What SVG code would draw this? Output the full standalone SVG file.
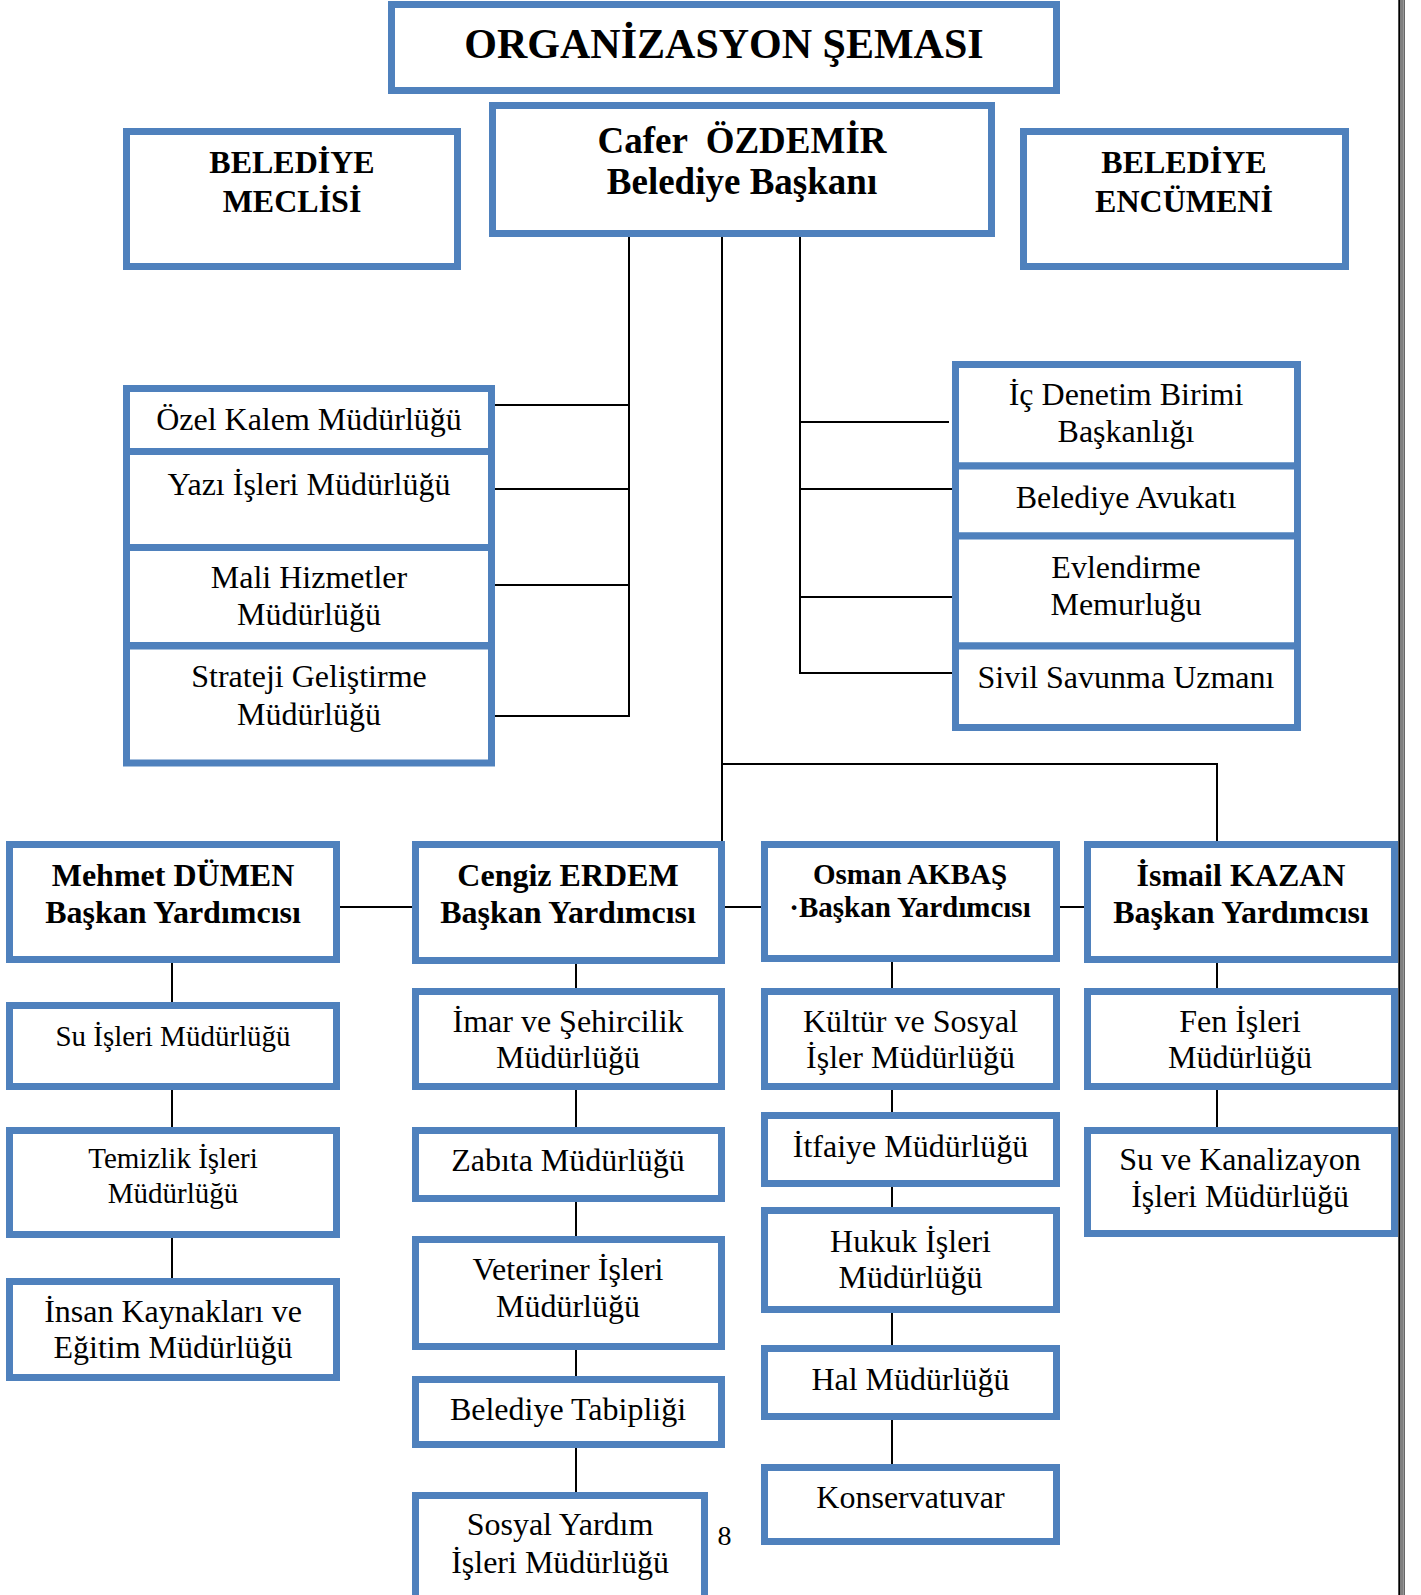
<svg xmlns="http://www.w3.org/2000/svg" width="1421" height="1595" viewBox="0 0 1421 1595">
<style>
.box{fill:#ffffff;stroke:#4F81BD;stroke-width:7}
.t{font-family:"Liberation Serif","Times New Roman",serif;fill:#000;text-anchor:middle}
.b{font-weight:bold}
.s32{font-size:32px}
.s29{font-size:29px}
.conn line{stroke:#000;stroke-width:2}
.border line{stroke:#000}
</style>
<rect x="0" y="0" width="1421" height="1595" fill="#ffffff"/>
<g class="border">
<line x1="1399.4" y1="0" x2="1399.4" y2="1595" stroke-width="2.2"/>
<line x1="1402" y1="0" x2="1402" y2="1595" stroke-width="1"/>
<line x1="1404.1" y1="0" x2="1404.1" y2="1595" stroke-width="1"/>
</g>
<g class="conn">
<line x1="629" y1="233" x2="629" y2="717"/>
<line x1="722" y1="233" x2="722" y2="845"/>
<line x1="800" y1="233" x2="800" y2="674"/>
<line x1="493" y1="405" x2="629" y2="405"/>
<line x1="493" y1="489" x2="629" y2="489"/>
<line x1="493" y1="585" x2="629" y2="585"/>
<line x1="493" y1="716" x2="630" y2="716"/>
<line x1="799" y1="422" x2="949" y2="422"/>
<line x1="799" y1="489" x2="953" y2="489"/>
<line x1="799" y1="597" x2="953" y2="597"/>
<line x1="799" y1="673" x2="953" y2="673"/>
<line x1="721" y1="764" x2="1218" y2="764"/>
<line x1="1217" y1="763" x2="1217" y2="844"/>
<line x1="340" y1="907" x2="412" y2="907"/>
<line x1="725" y1="907" x2="761" y2="907"/>
<line x1="1060" y1="907" x2="1084" y2="907"/>
<line x1="172" y1="962" x2="172" y2="1003"/>
<line x1="172" y1="1089" x2="172" y2="1128"/>
<line x1="172" y1="1237" x2="172" y2="1279"/>
<line x1="576" y1="963" x2="576" y2="989"/>
<line x1="576" y1="1089" x2="576" y2="1128"/>
<line x1="576" y1="1201" x2="576" y2="1237"/>
<line x1="576" y1="1349" x2="576" y2="1377"/>
<line x1="576" y1="1447" x2="576" y2="1493"/>
<line x1="892" y1="961" x2="892" y2="989"/>
<line x1="892" y1="1089" x2="892" y2="1113"/>
<line x1="892" y1="1186" x2="892" y2="1208"/>
<line x1="892" y1="1312" x2="892" y2="1346"/>
<line x1="892" y1="1419" x2="892" y2="1465"/>
<line x1="1217" y1="962" x2="1217" y2="989"/>
<line x1="1217" y1="1089" x2="1217" y2="1128"/>
</g>
<g id="title">
<rect class="box" x="391.5" y="4.5" width="665" height="86"/>
<text class="t b" x="724" y="58" font-size="42">ORGANİZASYON ŞEMASI</text>
</g>
<g id="baskan">
<rect class="box" x="492.5" y="105.5" width="499" height="128"/>
<text class="t b" x="742" y="153" font-size="37" xml:space="preserve">Cafer  ÖZDEMİR</text>
<text class="t b" x="742" y="194" font-size="37">Belediye Başkanı</text>
</g>
<g id="meclis">
<rect class="box" x="126.5" y="131.5" width="331" height="135"/>
<text class="t b s32" x="292" y="173">BELEDİYE</text>
<text class="t b s32" x="292" y="212">MECLİSİ</text>
</g>
<g id="encumen">
<rect class="box" x="1023.5" y="131.5" width="322" height="135"/>
<text class="t b s32" x="1184" y="173">BELEDİYE</text>
<text class="t b s32" x="1184" y="212">ENCÜMENİ</text>
</g>
<g id="ozel-kalem">
<rect class="box" x="126.5" y="388.5" width="365" height="63"/>
<text class="t s32" x="309" y="430">Özel Kalem Müdürlüğü</text>
</g>
<g id="yazi-isleri">
<rect class="box" x="126.5" y="451.5" width="365" height="96"/>
<text class="t s32" x="309" y="495">Yazı İşleri Müdürlüğü</text>
</g>
<g id="mali-hizmetler">
<rect class="box" x="126.5" y="547.5" width="365" height="98"/>
<text class="t s32" x="309" y="588">Mali Hizmetler</text>
<text class="t s32" x="309" y="625">Müdürlüğü</text>
</g>
<g id="strateji">
<rect class="box" x="126.5" y="646" width="365" height="117"/>
<text class="t s32" x="309" y="687">Strateji Geliştirme</text>
<text class="t s32" x="309" y="725">Müdürlüğü</text>
</g>
<g id="ic-denetim">
<rect class="box" x="955.5" y="364.5" width="342" height="101.5"/>
<text class="t s32" x="1126" y="405">İç Denetim Birimi</text>
<text class="t s32" x="1126" y="442">Başkanlığı</text>
</g>
<g id="avukat">
<rect class="box" x="955.5" y="466" width="342" height="70"/>
<text class="t s32" x="1126" y="508">Belediye Avukatı</text>
</g>
<g id="evlendirme">
<rect class="box" x="955.5" y="536" width="342" height="110"/>
<text class="t s32" x="1126" y="578">Evlendirme</text>
<text class="t s32" x="1126" y="615">Memurluğu</text>
</g>
<g id="sivil-savunma">
<rect class="box" x="955.5" y="646" width="342" height="81.5"/>
<text class="t s32" x="1126" y="688">Sivil Savunma Uzmanı</text>
</g>
<g id="mehmet">
<rect class="box" x="9.5" y="844.5" width="327" height="115"/>
<text class="t b s32" x="173" y="886">Mehmet DÜMEN</text>
<text class="t b s32" x="173" y="923">Başkan Yardımcısı</text>
</g>
<g id="cengiz">
<rect class="box" x="415.5" y="844.5" width="306" height="116"/>
<text class="t b s32" x="568" y="886">Cengiz ERDEM</text>
<text class="t b s32" x="568" y="923">Başkan Yardımcısı</text>
</g>
<g id="osman">
<rect class="box" x="764.5" y="844.5" width="292" height="114"/>
<text class="t b s29" x="910" y="884">Osman AKBAŞ</text>
<text class="t b s29" x="910" y="917">·Başkan Yardımcısı</text>
</g>
<g id="ismail">
<rect class="box" x="1087.5" y="844.5" width="307" height="115"/>
<text class="t b s32" x="1241" y="886">İsmail KAZAN</text>
<text class="t b s32" x="1241" y="923">Başkan Yardımcısı</text>
</g>
<g id="su-isleri">
<rect class="box" x="9.5" y="1005.5" width="327" height="81"/>
<text class="t s29" x="173" y="1046">Su İşleri Müdürlüğü</text>
</g>
<g id="temizlik">
<rect class="box" x="9.5" y="1130.5" width="327" height="104"/>
<text class="t s29" x="173" y="1168">Temizlik İşleri</text>
<text class="t s29" x="173" y="1203">Müdürlüğü</text>
</g>
<g id="insan-kaynaklari">
<rect class="box" x="9.5" y="1281.5" width="327" height="96"/>
<text class="t s32" x="173" y="1322">İnsan Kaynakları ve</text>
<text class="t s32" x="173" y="1358">Eğitim Müdürlüğü</text>
</g>
<g id="imar">
<rect class="box" x="415.5" y="991.5" width="306" height="95"/>
<text class="t s32" x="568" y="1032">İmar ve Şehircilik</text>
<text class="t s32" x="568" y="1068">Müdürlüğü</text>
</g>
<g id="zabita">
<rect class="box" x="415.5" y="1130.5" width="306" height="68"/>
<text class="t s32" x="568" y="1171">Zabıta Müdürlüğü</text>
</g>
<g id="veteriner">
<rect class="box" x="415.5" y="1239.5" width="306" height="107"/>
<text class="t s32" x="568" y="1280">Veteriner İşleri</text>
<text class="t s32" x="568" y="1317">Müdürlüğü</text>
</g>
<g id="tabiplik">
<rect class="box" x="415.5" y="1379.5" width="306" height="65"/>
<text class="t s32" x="568" y="1420">Belediye Tabipliği</text>
</g>
<g id="sosyal-yardim">
<rect class="box" x="415.5" y="1495.5" width="289" height="120"/>
<text class="t s32" x="560" y="1535">Sosyal Yardım</text>
<text class="t s32" x="560" y="1573">İşleri Müdürlüğü</text>
</g>
<g id="kultur">
<rect class="box" x="764.5" y="991.5" width="292" height="95"/>
<text class="t s32" x="910.5" y="1032">Kültür ve Sosyal</text>
<text class="t s32" x="910.5" y="1068">İşler Müdürlüğü</text>
</g>
<g id="itfaiye">
<rect class="box" x="764.5" y="1115.5" width="292" height="68"/>
<text class="t s32" x="910.5" y="1157">İtfaiye Müdürlüğü</text>
</g>
<g id="hukuk">
<rect class="box" x="764.5" y="1210.5" width="292" height="99"/>
<text class="t s32" x="910.5" y="1252">Hukuk İşleri</text>
<text class="t s32" x="910.5" y="1288">Müdürlüğü</text>
</g>
<g id="hal">
<rect class="box" x="764.5" y="1348.5" width="292" height="68"/>
<text class="t s32" x="910.5" y="1390">Hal Müdürlüğü</text>
</g>
<g id="konservatuvar">
<rect class="box" x="764.5" y="1467.5" width="292" height="74"/>
<text class="t s32" x="910.5" y="1508">Konservatuvar</text>
</g>
<g id="fen-isleri">
<rect class="box" x="1087.5" y="991.5" width="307" height="95"/>
<text class="t s32" x="1240" y="1032">Fen İşleri</text>
<text class="t s32" x="1240" y="1068">Müdürlüğü</text>
</g>
<g id="su-kanalizasyon">
<rect class="box" x="1087.5" y="1130.5" width="307" height="103"/>
<text class="t s32" x="1240" y="1170">Su ve Kanalizayon</text>
<text class="t s32" x="1240" y="1207">İşleri Müdürlüğü</text>
</g>
<text class="t" x="724.5" y="1545" font-size="28">8</text>
</svg>
